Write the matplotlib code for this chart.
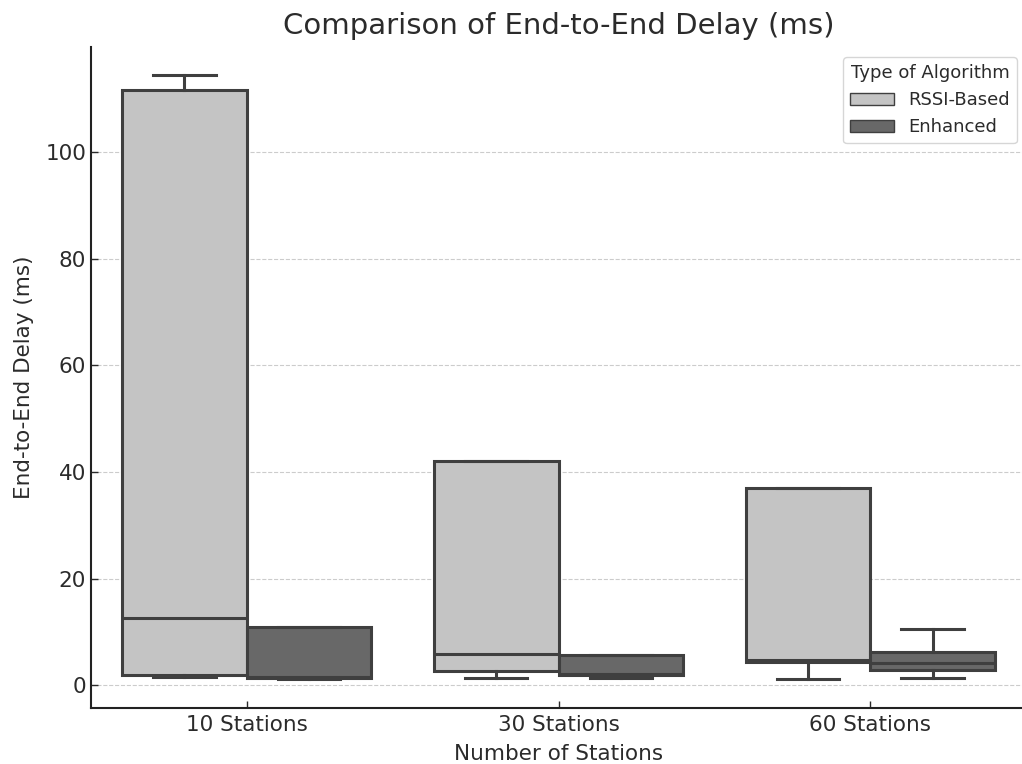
import matplotlib
matplotlib.use("Agg")
import matplotlib.pyplot as plt
from matplotlib.patches import Patch

# categories / groups
stations = ["10 Stations", "30 Stations", "60 Stations"]
algorithms = ["RSSI-Based", "Enhanced"]

# box statistics (ms)
rssi_whislo = [1.6, 1.4, 1.2]
rssi_q1 = [2.0, 2.7, 4.3]
rssi_med = [12.6, 5.8, 4.8]
rssi_q3 = [111.7, 42.1, 37.1]
rssi_whishi = [114.5, 42.1, 37.1]

enh_whislo = [1.2, 1.4, 1.4]
enh_q1 = [1.4, 1.9, 2.8]
enh_med = [1.6, 2.1, 4.1]
enh_q3 = [11.0, 5.6, 6.3]
enh_whishi = [11.0, 5.6, 10.5]

colors = ["#c4c4c4", "#686868"]
edge = "#3f3f3f"
text_col = "#2b2b2b"


def make_stats(lo, q1, med, q3, hi):
    return [dict(whislo=a, q1=b, med=c, q3=d, whishi=e, fliers=[])
            for a, b, c, d, e in zip(lo, q1, med, q3, hi)]


fig = plt.figure(figsize=(10.22, 7.64), dpi=100)
ax = fig.add_axes([0.089, 0.073, 0.915, 0.866])

groups = [
    make_stats(rssi_whislo, rssi_q1, rssi_med, rssi_q3, rssi_whishi),
    make_stats(enh_whislo, enh_q1, enh_med, enh_q3, enh_whishi),
]
offsets = [-0.2, 0.2]
for stats, off, col in zip(groups, offsets, colors):
    pos = [i + off for i in range(len(stations))]
    ax.bxp(stats, positions=pos, widths=0.4, patch_artist=True, showfliers=False,
           boxprops=dict(facecolor=col, edgecolor=edge, linewidth=2.2),
           medianprops=dict(color=edge, linewidth=2.2),
           whiskerprops=dict(color=edge, linewidth=2.2),
           capprops=dict(color=edge, linewidth=2.2),
           capwidths=0.2, manage_ticks=False)

ax.set_xlim(-0.5, 2.5)
ax.set_ylim(-4.3, 119.8)
ax.set_yticks([0, 20, 40, 60, 80, 100])
ax.set_xticks(range(len(stations)))
ax.set_xticklabels(stations)
ax.tick_params(labelsize=15.5, colors=text_col, direction="in", length=5, width=1)
ax.tick_params(axis="x", pad=5)
ax.set_xlabel("Number of Stations", fontsize=15.5, color=text_col, labelpad=6)
ax.set_ylabel("End-to-End Delay (ms)", fontsize=15.5, color=text_col, labelpad=8)
ax.set_title("Comparison of End-to-End Delay (ms)", fontsize=21, color=text_col, pad=9)

ax.yaxis.grid(True, linestyle="--", color="#cccccc", linewidth=0.8)
ax.set_axisbelow(True)
for s in ["top", "right"]:
    ax.spines[s].set_visible(False)
for s in ["left", "bottom"]:
    ax.spines[s].set_color("#222222")
    ax.spines[s].set_linewidth(1.5)

handles = [Patch(facecolor=c, edgecolor=edge, label=l) for c, l in zip(colors, algorithms)]
leg = ax.legend(handles=handles, title="Type of Algorithm", loc="upper right",
                bbox_to_anchor=(1.0, 0.998), fontsize=13, title_fontsize=13,
                labelcolor=text_col, handlelength=2.4)
leg.get_title().set_color(text_col)

fig.savefig("out.png", dpi=100)
